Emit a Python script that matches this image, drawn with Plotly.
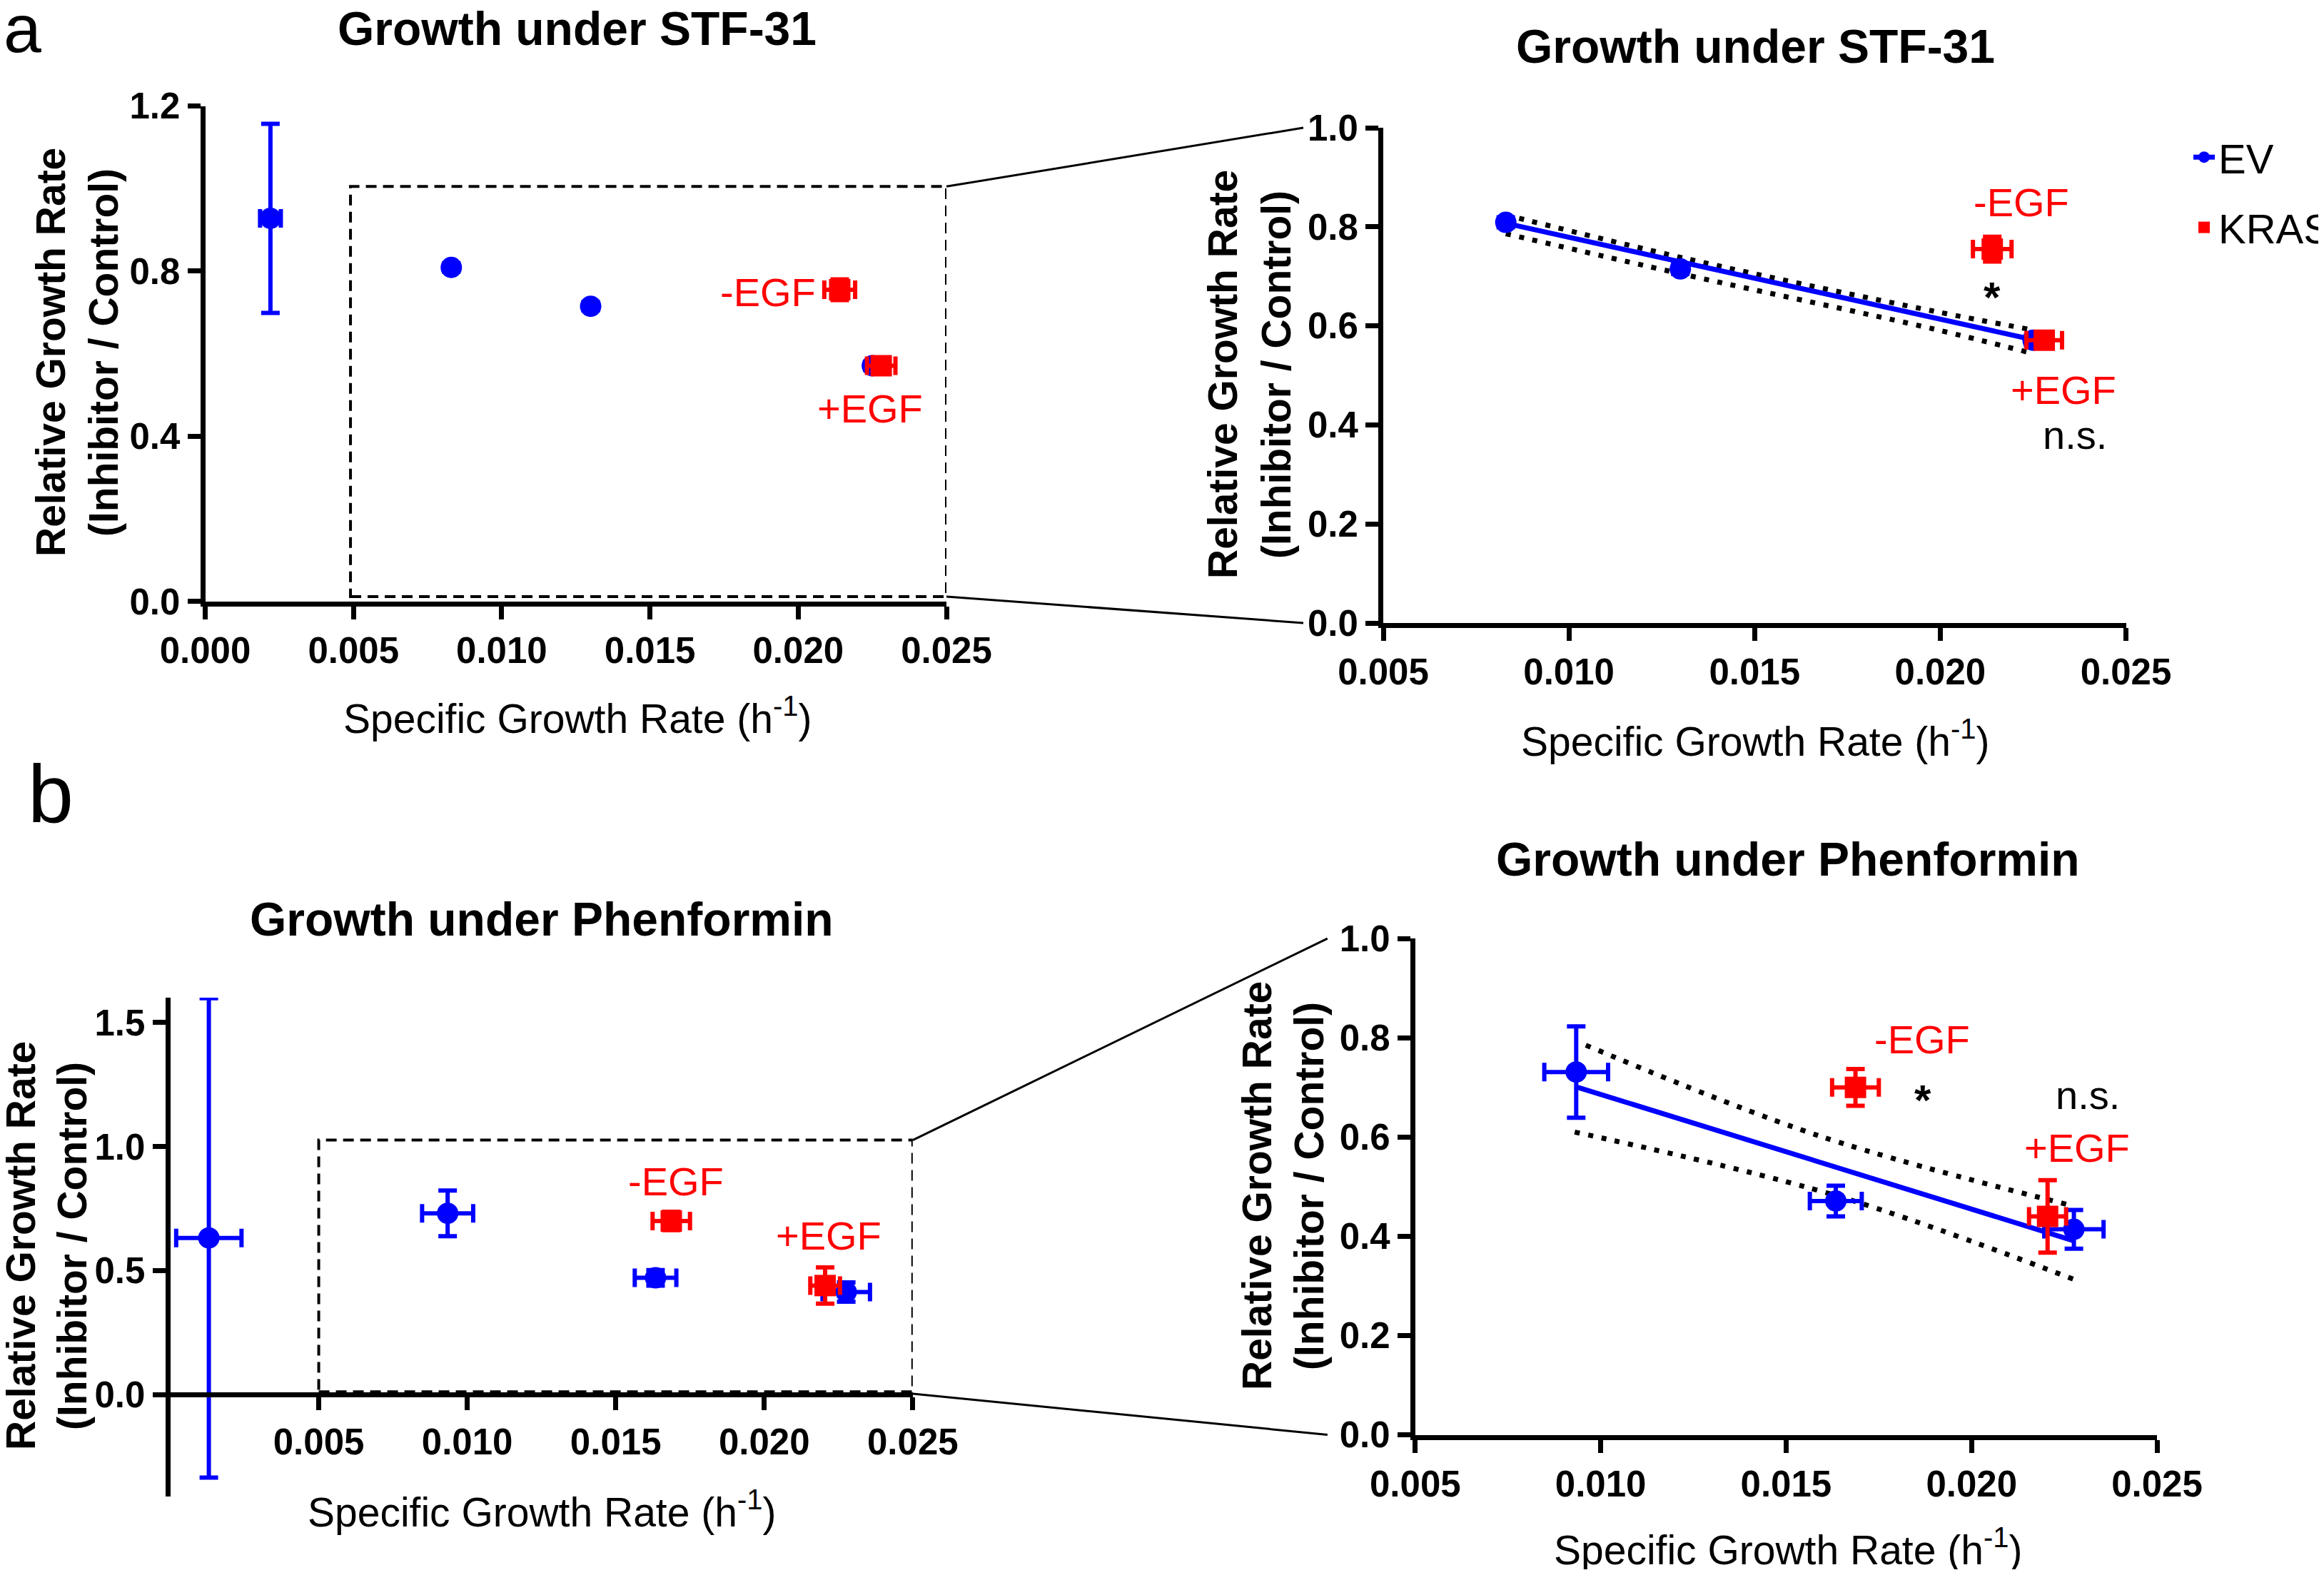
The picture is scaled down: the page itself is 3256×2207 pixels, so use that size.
import plotly.graph_objects as go

# The page body has an 8px default margin, so the figure is drawn 8px smaller
# than the window and all layout positions below are given in window pixels.
WIN_W, WIN_H = 3256, 2207
OFF = 8
W, H = WIN_W - 2 * OFF, WIN_H - 2 * OFF
BLUE = "#0000ff"
RED = "#ff0000"
FONT = "Liberation Sans, Arial, Helvetica, sans-serif"

# ---------------- data ----------------
# STF-31
ev_stf_x = [0.0022, 0.0083, 0.0130, 0.0225]
ev_stf_y = [0.928, 0.809, 0.715, 0.571]
ev_stf_xerr = [0.00035, 0.0, 0.0, 0.0]
ev_stf_yerr = [0.229, 0.010, 0.010, 0.010]
kras_stf_x = [0.0214, 0.0228]
kras_stf_y = [0.755, 0.571]
kras_stf_xerr = [0.00052, 0.00048]
kras_stf_yerr = [0.025, 0.010]
stf_fit_x = [0.0083, 0.0225]
stf_fit_y = [0.807, 0.572]
stf_band_x = [0.0083, 0.0132, 0.0198, 0.0224]
stf_band_hi = [0.824, 0.735, 0.630, 0.593]
stf_band_lo = [0.786, 0.702, 0.594, 0.546]

# Phenformin
ev_phen_x = [0.0013, 0.00934, 0.01634, 0.02276]
ev_phen_y = [0.632, 0.731, 0.471, 0.414]
ev_phen_xerr = [0.0011, 0.00086, 0.0007, 0.0008]
ev_phen_yerr = [0.966, 0.092, 0.031, 0.039]
kras_phen_x = [0.01687, 0.02205]
kras_phen_y = [0.700, 0.440]
kras_phen_xerr = [0.00063, 0.0005]
kras_phen_yerr = [0.037, 0.073]
phen_fit_x = [0.0093, 0.0228]
phen_fit_y = [0.702, 0.390]
phen_band_hi_x = [0.0096, 0.0159, 0.0227]
phen_band_hi = [0.785, 0.602, 0.462]
phen_band_lo_x = [0.0093, 0.0163, 0.0228]
phen_band_lo = [0.610, 0.483, 0.312]

# tick values / labels
x_ticks_full = [0.000, 0.005, 0.010, 0.015, 0.020, 0.025]
x_ticks_zoom = [0.005, 0.010, 0.015, 0.020, 0.025]
y_ticks_stf_full = [0.0, 0.4, 0.8, 1.2]
y_ticks_zoom = [0.0, 0.2, 0.4, 0.6, 0.8, 1.0]
y_ticks_phen_full = [0.0, 0.5, 1.0, 1.5]

# ---------------- layout helpers (window pixels -> paper) ----------------
def px(xp):
    return (xp - OFF) / W

def py(yp):
    return 1 - (yp - OFF) / H

# pixel boxes of the four plotting areas: (left, right, bottom, top)
BOX = {
    "aL": (287.5, 1326, 842.9, 148.5),
    "aR": (1938, 2978.5, 873, 179),
    "bL": (238.5, 1278.8, 2097, 1398),
    "bR": (1982.8, 3022, 2010.5, 1315.1),
}
RANGE = {
    "aL": ([0, 0.025], [0, 1.2]),
    "aR": ([0.005, 0.025], [0, 1.0]),
    "bL": ([0, 0.025], [-0.41, 1.60]),
    "bR": ([0.005, 0.025], [0, 1.0]),
}


def dom(key):
    l, r, b, t = BOX[key]
    return [px(l), px(r)], [py(b), py(t)]


def data_to_paper(key, xv=None, yv=None):
    l, r, b, t = BOX[key]
    xr, yr = RANGE[key]
    out = []
    if xv is not None:
        out.append(px(l + (xv - xr[0]) / (xr[1] - xr[0]) * (r - l)))
    if yv is not None:
        out.append(py(b - (yv - yr[0]) / (yr[1] - yr[0]) * (b - t)))
    return out


fig = go.Figure()

err_style = dict(thickness=6, width=13)
MS = 30


def add_points(xa, ya, xs, ys, xerr, yerr, color, symbol, name=None, showlegend=False, group=None):
    fig.add_trace(go.Scatter(
        x=xs, y=ys, mode="markers", xaxis=xa, yaxis=ya,
        marker=dict(color=color, size=MS, symbol=symbol, line=dict(width=0)),
        error_x=dict(type="data", array=xerr, color=color, visible=True, **err_style),
        error_y=dict(type="data", array=yerr, color=color, visible=True, **err_style),
        name=name, showlegend=showlegend, legendgroup=group, cliponaxis=False,
    ))


def add_fit(xa, ya, fx, fy, bx_hi, by_hi, bx_lo, by_lo):
    for bx, by in ((bx_hi, by_hi), (bx_lo, by_lo)):
        fig.add_trace(go.Scatter(
            x=bx, y=by, mode="lines", xaxis=xa, yaxis=ya,
            line=dict(color="black", width=7, dash="7px,12px", shape="spline"),
            showlegend=False, hoverinfo="skip",
        ))
    fig.add_trace(go.Scatter(
        x=fx, y=fy, mode="lines", xaxis=xa, yaxis=ya,
        line=dict(color=BLUE, width=7), showlegend=False, hoverinfo="skip",
    ))


# ---- panel a left (full range) ----
add_points("x", "y", ev_stf_x, ev_stf_y, ev_stf_xerr, ev_stf_yerr, BLUE, "circle")
add_points("x", "y", kras_stf_x, kras_stf_y, kras_stf_xerr, kras_stf_yerr, RED, "square")

# ---- panel a right (zoom) ----
add_fit("x2", "y2", stf_fit_x, stf_fit_y, stf_band_x, stf_band_hi, stf_band_x, stf_band_lo)
# legend proxy for EV (line + marker)
fig.add_trace(go.Scatter(
    x=[None], y=[None], mode="lines+markers", xaxis="x2", yaxis="y2",
    line=dict(color=BLUE, width=7), marker=dict(color=BLUE, size=MS, symbol="circle"),
    name="EV", showlegend=True, legendgroup="ev",
))
add_points("x2", "y2", ev_stf_x[1:], ev_stf_y[1:], ev_stf_xerr[1:], ev_stf_yerr[1:], BLUE, "circle")
add_points("x2", "y2", kras_stf_x, kras_stf_y, kras_stf_xerr, kras_stf_yerr, RED, "square",
           name="KRAS", showlegend=True, group="kras")

# ---- panel b left (full range) ----
add_points("x3", "y3", ev_phen_x, ev_phen_y, ev_phen_xerr, ev_phen_yerr, BLUE, "circle")
add_points("x3", "y3", kras_phen_x, kras_phen_y, kras_phen_xerr, kras_phen_yerr, RED, "square")

# ---- panel b right (zoom) ----
add_fit("x4", "y4", phen_fit_x, phen_fit_y, phen_band_hi_x, phen_band_hi, phen_band_lo_x, phen_band_lo)
add_points("x4", "y4", ev_phen_x[1:], ev_phen_y[1:], ev_phen_xerr[1:], ev_phen_yerr[1:], BLUE, "circle")
add_points("x4", "y4", kras_phen_x, kras_phen_y, kras_phen_xerr, kras_phen_yerr, RED, "square")

# ---------------- axes ----------------
axis_common = dict(
    showline=True, linewidth=7, linecolor="black", mirror=False,
    ticks="outside", ticklen=18, tickwidth=7, tickcolor="black",
    showgrid=False, zeroline=False, automargin=False,
    tickfont=dict(family=FONT, size=51, color="black", weight="bold"),
)


def set_axes(key, xname, yname, xticks, yticks, xfmt, yfmt, x_free_at_zero=False):
    xd, yd = dom(key)
    xr, yr = RANGE[key]
    xa = dict(axis_common, domain=xd, range=xr, tickvals=xticks,
              ticktext=[format(v, xfmt) for v in xticks], anchor=yname.replace("axis", ""))
    if x_free_at_zero:
        xa["anchor"] = "free"
        xa["position"] = data_to_paper(key, yv=0.0)[0]
    ya = dict(axis_common, domain=yd, range=yr, tickvals=yticks,
              ticktext=[format(v, yfmt) for v in yticks], anchor=xname.replace("axis", ""))
    fig.update_layout({xname: xa, yname: ya})


set_axes("aL", "xaxis", "yaxis", x_ticks_full, y_ticks_stf_full, ".3f", ".1f")
set_axes("aR", "xaxis2", "yaxis2", x_ticks_zoom, y_ticks_zoom, ".3f", ".1f")
set_axes("bL", "xaxis3", "yaxis3", x_ticks_zoom, y_ticks_phen_full, ".3f", ".1f", x_free_at_zero=True)
set_axes("bR", "xaxis4", "yaxis4", x_ticks_zoom, y_ticks_zoom, ".3f", ".1f")

# ---------------- shapes: zoom rectangles and connectors ----------------
shapes = []
dash_rect = dict(color="black", width=4, dash="15px,9px")
shapes.append(dict(type="rect", xref="x", yref="y", x0=0.0049, x1=0.025, y0=0.012, y1=1.005,
                   line=dash_rect, fillcolor="rgba(0,0,0,0)", layer="below"))
shapes.append(dict(type="rect", xref="x3", yref="y3", x0=0.005, x1=0.025, y0=0.012, y1=1.026,
                   line=dash_rect, fillcolor="rgba(0,0,0,0)", layer="below"))

conn = dict(color="black", width=3)
# a: from rectangle corners to the zoomed axis (ending left of its tick labels)
ax0, ay_top = data_to_paper("aL", 0.025, 1.005)
_, ay_bot = data_to_paper("aL", 0.025, 0.012)
_, ry_top = data_to_paper("aR", 0.005, 1.0)
_, ry_bot = data_to_paper("aR", 0.005, 0.0)
rx_end = px(BOX["aR"][0] - 112)
shapes.append(dict(type="line", xref="paper", yref="paper", x0=ax0, y0=ay_top, x1=rx_end, y1=ry_top, line=conn))
shapes.append(dict(type="line", xref="paper", yref="paper", x0=ax0, y0=ay_bot, x1=rx_end, y1=ry_bot, line=conn))
# b
bx0, by_top = data_to_paper("bL", 0.025, 1.026)
_, by_bot = data_to_paper("bL", 0.025, 0.004)
_, rby_top = data_to_paper("bR", 0.005, 1.0)
_, rby_bot = data_to_paper("bR", 0.005, 0.0)
rbx_end = px(BOX["bR"][0] - 123)
shapes.append(dict(type="line", xref="paper", yref="paper", x0=bx0, y0=by_top, x1=rbx_end, y1=rby_top, line=conn))
shapes.append(dict(type="line", xref="paper", yref="paper", x0=bx0, y0=by_bot, x1=rbx_end, y1=rby_bot, line=conn))

# ---------------- annotations ----------------
ann = []


def label(xref, yref, x, y, text, color, size=56, bold=False, yshift=0):
    ann.append(dict(xref=xref, yref=yref, x=x, y=y, text=text, showarrow=False,
                    xanchor="center", yanchor="middle", yshift=yshift,
                    font=dict(family=FONT, size=size, color=color,
                              weight="bold" if bold else "normal")))


# data labels
label("x", "y", 0.01898, 0.749, "-EGF", RED)
label("x", "y", 0.02242, 0.467, "+EGF", RED)
label("x2", "y2", 0.02218, 0.849, "-EGF", RED)
label("x2", "y2", 0.0214, 0.678, "*", "black", size=60, bold=True, yshift=-14)
label("x2", "y2", 0.02332, 0.470, "+EGF", RED)
label("x2", "y2", 0.02363, 0.379, "n.s.", "black")
label("x3", "y3", 0.01702, 0.859, "-EGF", RED)
label("x3", "y3", 0.02217, 0.642, "+EGF", RED)
label("x4", "y4", 0.01866, 0.796, "-EGF", RED)
label("x4", "y4", 0.01869, 0.695, "*", "black", size=60, bold=True, yshift=-14)
label("x4", "y4", 0.02313, 0.685, "n.s.", "black")
label("x4", "y4", 0.02284, 0.578, "+EGF", RED)

# panel titles
label("paper", "paper", px(808), py(40), "Growth under STF-31", "black", size=66, bold=True)
label("paper", "paper", px(2459), py(65), "Growth under STF-31", "black", size=66, bold=True)
label("paper", "paper", px(759), py(1288), "Growth under Phenformin", "black", size=66, bold=True)
label("paper", "paper", px(2505), py(1204), "Growth under Phenformin", "black", size=66, bold=True)

# x-axis titles
xt = "Specific Growth Rate (h<sup>-1</sup>)"
label("paper", "paper", px(809), py(1003), xt, "black", size=57)
label("paper", "paper", px(2459), py(1035), xt, "black", size=57)
label("paper", "paper", px(759), py(2115), xt, "black", size=57)
label("paper", "paper", px(2505), py(2168), xt, "black", size=57)

# y-axis titles (two rotated lines each)
def ytitle(x1, x2, yc):
    for xx, t in ((x1, "Relative Growth Rate"), (x2, "(Inhibitor / Control)")):
        ann.append(dict(xref="paper", yref="paper", x=px(xx), y=py(yc), text=t, showarrow=False,
                        textangle=-90, xanchor="center", yanchor="middle",
                        font=dict(family=FONT, size=57, color="black", weight="bold")))


ytitle(71, 145, 494)
ytitle(1713, 1788, 525)
ytitle(29, 101, 1746)
ytitle(1761, 1834, 1662)

# panel letters
label("paper", "paper", px(31), py(40), "a", "black", size=95)
label("paper", "paper", px(71), py(1112), "b", "black", size=115)

fig.update_layout(
    width=W, height=H,
    margin=dict(l=0, r=0, t=0, b=0, pad=0, autoexpand=False),
    paper_bgcolor="white", plot_bgcolor="white",
    font=dict(family=FONT, color="black"),
    shapes=shapes, annotations=ann,
    showlegend=True,
    legend=dict(
        x=px(3068), xanchor="left", y=py(176), yanchor="top",
        font=dict(family=FONT, size=58, color="black"),
        bgcolor="rgba(0,0,0,0)", borderwidth=0, tracegroupgap=20,
        traceorder="grouped", itemsizing="trace",
    ),
)

fig.write_html("out.html")
